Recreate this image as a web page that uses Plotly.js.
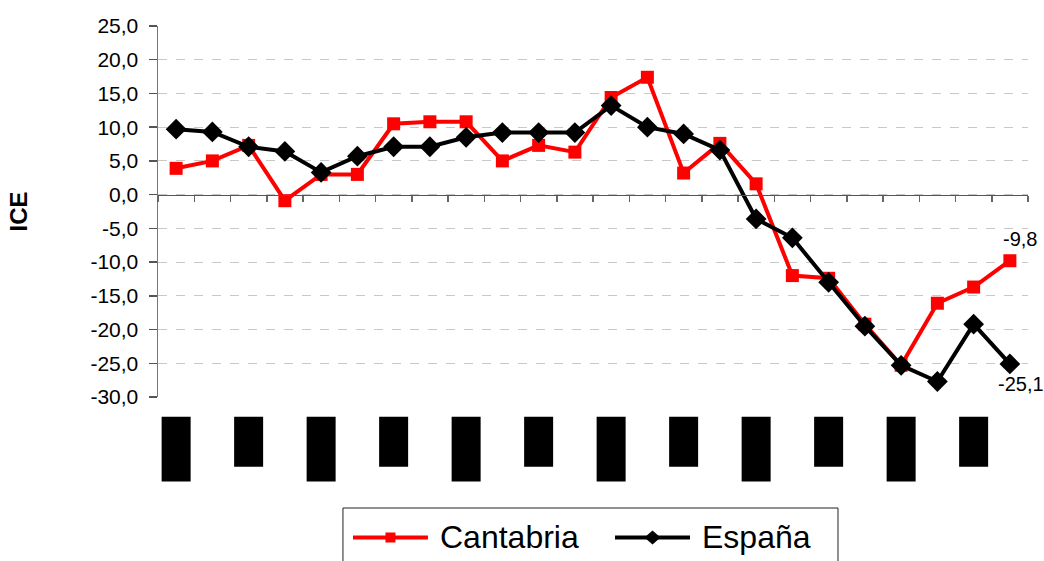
<!DOCTYPE html>
<html>
<head>
<meta charset="utf-8">
<script src="https://cdn.plot.ly/plotly-3.0.1.min.js"></script>
<style>html,body{margin:0;padding:0;background:#fff;overflow:hidden;height:561px;}#chart{width:1044px;height:580px;}</style>
</head>
<body>
<div id="chart"></div>
<script>
// Categories (the original tick labels render as solid black blocks)
const categories = ["1","2","3","4","5","6","7","8","9","10","11","12","13","14","15","16","17","18","19","20","21","22","23","24"];
const cantabria = [3.9, 5.0, 7.3, -0.9, 3.0, 3.0, 10.5, 10.8, 10.8, 5.0, 7.3, 6.3, 14.4, 17.4, 3.2, 7.6, 1.6, -12.0, -12.4, -19.2, -25.3, -16.1, -13.7, -9.8];
const espana    = [9.7, 9.3, 7.1, 6.4, 3.3, 5.7, 7.1, 7.1, 8.5, 9.2, 9.2, 9.2, 13.2, 10.0, 9.0, 6.6, -3.6, -6.4, -13.0, -19.5, -25.3, -27.7, -19.2, -25.1];
const seriesNames = ["Cantabria", "España"];
const seriesColors = ["#FF0000", "#000000"];
const yTicks = [-30, -25, -20, -15, -10, -5, 0, 5, 10, 15, 20, 25];

const fmt = v => v.toFixed(1).replace('.', ',');
const FONT = "Liberation Sans, Arial, sans-serif";

const traces = [
  {x: categories, y: cantabria, name: seriesNames[0], type: 'scatter', mode: 'lines+markers',
   line: {color: seriesColors[0], width: 4}, marker: {symbol: 'square', size: 13, color: seriesColors[0]}, cliponaxis: false},
  {x: categories, y: espana, name: seriesNames[1], type: 'scatter', mode: 'lines+markers',
   line: {color: seriesColors[1], width: 4}, marker: {symbol: 'diamond', size: 16, color: seriesColors[1]}, cliponaxis: false}
];

// black label blocks under every other category
const shapes = [];
categories.forEach((c, i) => {
  if (i % 2 === 0) {
    const tall = (i % 4 === 0);
    shapes.push({type: 'rect', xref: 'x', yref: 'paper', x0: i - 0.4, x1: i + 0.4,
      y0: -0.053, y1: tall ? -0.228 : -0.188, fillcolor: '#000', line: {width: 0}, layer: 'above'});
  }
});

// legend (drawn as a boxed key below the plot, cut by the bottom edge as in the original)
const LEG_Y = -0.3787;
shapes.push({type: 'rect', xref: 'paper', yref: 'paper', x0: 0.2126, x1: 0.7816, y0: -0.48, y1: -0.2992,
  fillcolor: '#fff', line: {color: '#222', width: 1}});
const legItems = [
  {x0: 0.2241, x1: 0.3103, tx: 0.3218, sym: 'square'},
  {x0: 0.5253, x1: 0.6115, tx: 0.6230, sym: 'diamond'}
];
const annotations = [];
legItems.forEach((it, k) => {
  shapes.push({type: 'line', xref: 'paper', yref: 'paper', x0: it.x0, x1: it.x1, y0: LEG_Y, y1: LEG_Y,
    line: {color: seriesColors[k], width: 4}});
  const xc = (it.x0 + it.x1) / 2;
  if (it.sym === 'square') {
    shapes.push({type: 'rect', xref: 'paper', yref: 'paper', xsizemode: 'pixel', ysizemode: 'pixel',
      xanchor: xc, yanchor: LEG_Y, x0: -5, x1: 5, y0: -5, y1: 5,
      fillcolor: seriesColors[k], line: {width: 0}});
  } else {
    shapes.push({type: 'path', xref: 'paper', yref: 'paper', xsizemode: 'pixel', ysizemode: 'pixel',
      xanchor: xc, yanchor: LEG_Y, path: 'M-8,0L0,7L8,0L0,-7Z',
      fillcolor: seriesColors[k], line: {width: 0}});
  }
  annotations.push({xref: 'paper', yref: 'paper', x: it.tx, y: LEG_Y, xanchor: 'left', yanchor: 'middle',
    text: seriesNames[k], showarrow: false, font: {family: FONT, size: 32, color: '#000'}});
});

const last = categories.length - 1;
annotations.push(
  {x: last, y: cantabria[last], xref: 'x', yref: 'y', text: fmt(cantabria[last]),
   showarrow: false, xshift: 10, yshift: 22, font: {family: FONT, size: 20, color: '#000'}},
  {x: last, y: espana[last], xref: 'x', yref: 'y', text: fmt(espana[last]),
   showarrow: false, xshift: 11, yshift: -20, font: {family: FONT, size: 20, color: '#000'}}
);

const layout = {
  width: 1044, height: 580,
  margin: {l: 158, r: 16, t: 26, b: 183},
  paper_bgcolor: '#fff', plot_bgcolor: '#fff',
  separators: ',.',
  font: {family: FONT, color: '#000'},
  showlegend: false,
  xaxis: {type: 'category', range: [-0.5, 23.5], anchor: 'free', position: 30/55,
    showgrid: false, zeroline: false, showline: true, linecolor: '#555', linewidth: 1.5,
    ticks: 'outside', tickson: 'boundaries', ticklen: 6, tickcolor: '#666', tickwidth: 1.5,
    showticklabels: false, fixedrange: true},
  yaxis: {range: [-30, 25], tickvals: yTicks, ticktext: yTicks.map(fmt),
    showgrid: true, gridcolor: '#c8c8c8', griddash: 'dash', gridwidth: 1,
    zeroline: false, showline: true, linecolor: '#777', linewidth: 1.5,
    ticks: 'outside', ticklen: 8, tickcolor: '#555', tickwidth: 1.5,
    ticklabelstandoff: 6,
    tickfont: {family: FONT, size: 21, color: '#000'},
    title: {text: '<b>ICE</b>', font: {family: FONT, size: 24, color: '#000'}, standoff: 56},
    fixedrange: true},
  shapes: shapes,
  annotations: annotations
};

Plotly.newPlot('chart', traces, layout, {displayModeBar: false, staticPlot: true});
</script>
</body>
</html>
